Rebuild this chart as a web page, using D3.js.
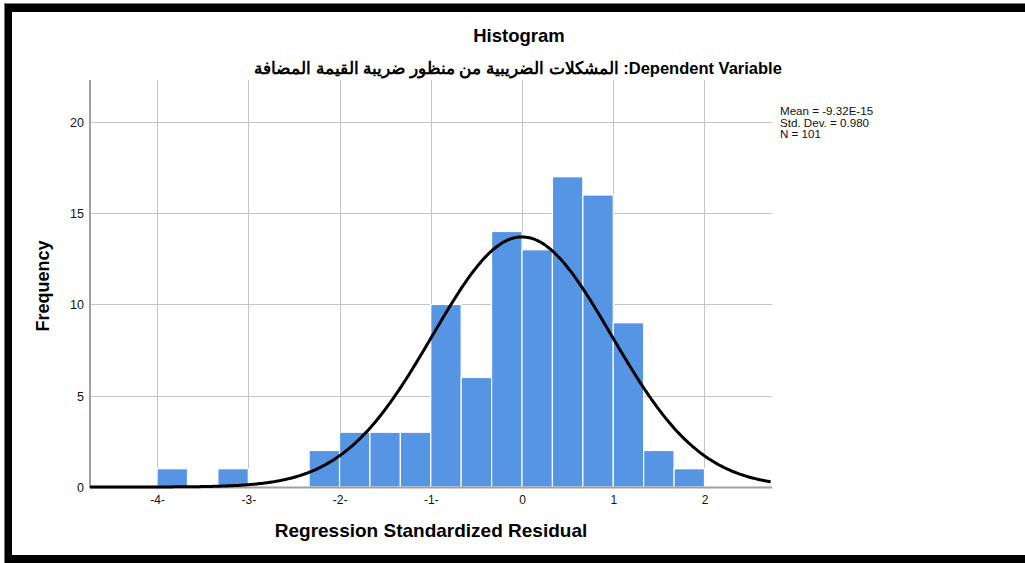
<!DOCTYPE html>
<html>
<head>
<meta charset="utf-8">
<script src="https://cdn.jsdelivr.net/npm/d3@7"></script>
<style>
html,body{margin:0;padding:0;background:#fff;}
svg{display:block;}
text{font-family:"Liberation Sans",Arial,sans-serif;}
</style>
</head>
<body>
<svg id="chart" width="1025" height="563"></svg>
<script>
// ---- data ----
const binLow  = [-4, -10/3, -7/3, -2, -5/3, -4/3, -1, -2/3, -1/3, 0, 1/3, 2/3, 1, 4/3, 5/3];
const binHigh = [-11/3, -3, -2, -5/3, -4/3, -1, -2/3, -1/3, 0, 1/3, 2/3, 1, 4/3, 5/3, 2];
const counts  = [1, 1, 2, 3, 3, 3, 10, 6, 14, 13, 17, 16, 9, 2, 1];
const xTickValues = [-4, -3, -2, -1, 0, 1, 2];
const xTickLabels = ["-4-", "-3-", "-2-", "-1-", "0", "1", "2"];
const yTickValues = [0, 5, 10, 15, 20];
const statsLines = ["Mean = -9.32E-15", "Std. Dev. = 0.980", "N = 101"];
const statMean = -9.32e-15, statSD = 0.980, statN = 101, binWidth = 1/3;
const titleText = "Histogram";
const subtitleText = "المشكلات الضريبية من منظور ضريبة القيمة المضافة :Dependent Variable";
const xLabel = "Regression Standardized Residual";
const yLabel = "Frequency";

// ---- layout ----
const svg = d3.select("#chart");
const pLeft = 90, pRight = 772, pTop = 80, pBottom = 487;
const x = d3.scaleLinear().domain([-4.735, 2.74]).range([pLeft, pRight]);
const y = d3.scaleLinear().domain([0, 22.3]).range([pBottom, pTop]);

// frame
svg.append("rect").attr("x",4).attr("y",3).attr("width",1021).attr("height",9).attr("fill","#000");
svg.append("rect").attr("x",4).attr("y",3).attr("width",8).attr("height",560).attr("fill","#000");
svg.append("rect").attr("x",4).attr("y",555).attr("width",1021).attr("height",8).attr("fill","#000");
svg.append("line").attr("x1",4).attr("x2",1025).attr("y1",3.5).attr("y2",3.5).attr("stroke","#777").attr("stroke-width",1);
svg.append("line").attr("x1",4.5).attr("x2",4.5).attr("y1",3).attr("y2",563).attr("stroke","#777").attr("stroke-width",1);

// grid
const g = svg.append("g");
g.selectAll("line.vg").data(xTickValues).join("line")
  .attr("x1", d => Math.round(x(d))+0.5).attr("x2", d => Math.round(x(d))+0.5)
  .attr("y1", pTop).attr("y2", pBottom)
  .attr("stroke", "#c4c4c4").attr("stroke-width", 1);
g.selectAll("line.hg").data(yTickValues.filter(d => d > 0)).join("line")
  .attr("x1", pLeft).attr("x2", pRight)
  .attr("y1", d => Math.round(y(d))+0.5).attr("y2", d => Math.round(y(d))+0.5)
  .attr("stroke", "#c4c4c4").attr("stroke-width", 1);

// bars
g.selectAll("rect.bar").data(counts).join("rect")
  .attr("x", (d,i) => x(binLow[i]))
  .attr("width", (d,i) => x(binHigh[i]) - x(binLow[i]))
  .attr("y", d => y(d))
  .attr("height", d => y(0) - y(d))
  .attr("fill", "#5595e3")
  .attr("stroke", "#fff").attr("stroke-width", 1.2);

// axes lines
svg.append("line").attr("x1", pLeft).attr("x2", pRight).attr("y1", pBottom+0.5).attr("y2", pBottom+0.5)
  .attr("stroke", "#a0a0a0").attr("stroke-width", 2);
svg.append("line").attr("x1", pLeft).attr("x2", pLeft).attr("y1", pTop).attr("y2", pBottom+1)
  .attr("stroke", "#a0a0a0").attr("stroke-width", 2);

// normal curve
const pdf = v => statN * binWidth * Math.exp(-0.5*Math.pow((v-statMean)/statSD,2)) / (statSD*Math.sqrt(2*Math.PI));
const xs = d3.range(x.domain()[0], x.domain()[1] + 0.001, 0.02);
svg.append("path").datum(xs)
  .attr("d", d3.line().x(d => x(d)).y(d => y(pdf(d))).curve(d3.curveBasis))
  .attr("fill","none").attr("stroke","#000").attr("stroke-width",3);

// axes ticks labels
const xAxis = d3.axisBottom(x).tickValues(xTickValues).tickSize(0)
  .tickFormat((d,i) => xTickLabels[i]);
const xa = svg.append("g").attr("transform", `translate(0,${pBottom})`).call(xAxis);
xa.select(".domain").remove();
xa.selectAll("text").attr("dy", null).attr("y", 17).attr("font-size", 12)
  .attr("font-family", "Liberation Sans, Arial, sans-serif").attr("fill", "#111");

const yAxis = d3.axisLeft(y).tickValues(yTickValues).tickSize(0).tickFormat(d3.format("d"));
const ya = svg.append("g").attr("transform", `translate(${pLeft},0)`).call(yAxis);
ya.select(".domain").remove();
ya.selectAll("text").attr("x", -6).attr("dy", "0.35em").attr("font-size", 12.5)
  .attr("font-family", "Liberation Sans, Arial, sans-serif").attr("fill", "#111");

// titles
svg.append("text").attr("x", 519).attr("y", 42).attr("text-anchor","middle")
  .attr("font-size", 18.5).attr("font-weight","bold").text(titleText);
svg.append("text").attr("x", 518).attr("y", 74).attr("text-anchor","middle")
  .attr("direction","ltr")
  .attr("font-size", 16.5).attr("font-weight","bold")
  .text(subtitleText);
svg.append("text").attr("x", (pLeft+pRight)/2).attr("y", 537).attr("text-anchor","middle")
  .attr("font-size", 19).attr("font-weight","bold").text(xLabel);
svg.append("text").attr("transform", `translate(49,286) rotate(-90)`)
  .attr("text-anchor","middle").attr("font-size", 18).attr("font-weight","bold").text(yLabel);

// stats box
svg.append("g").selectAll("text").data(statsLines).join("text")
  .attr("x", 780).attr("y", (d,i) => 115 + i*11.6)
  .attr("font-size", 11.6).attr("fill", "#111").text(d => d);
</script>
</body>
</html>
